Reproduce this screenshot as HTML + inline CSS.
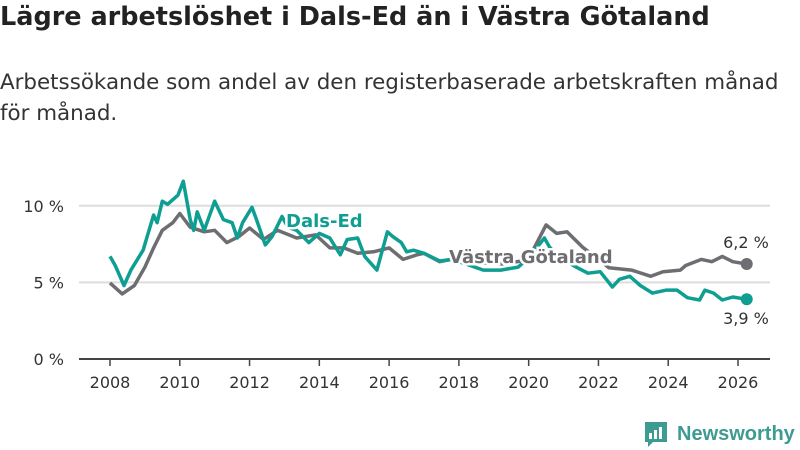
<!DOCTYPE html>
<html><head><meta charset="utf-8">
<style>
body{margin:0;background:#fff;width:800px;height:450px;overflow:hidden;font-family:"DejaVu Sans","Liberation Sans",sans-serif;}
#title{position:absolute;left:0;top:2px;font-size:25.5px;font-weight:bold;color:#222;white-space:nowrap;letter-spacing:0px}
#sub{position:absolute;left:0;top:67px;font-size:21.4px;line-height:31px;color:#333;width:800px;white-space:nowrap}
svg{position:absolute;left:0;top:0}
</style></head><body>
<div id="title">Lägre arbetslöshet i Dals-Ed än i Västra Götaland</div>
<div id="sub">Arbetssökande som andel av den registerbaserade arbetskraften månad<br>för månad.</div>
<svg id="chart" width="800" height="450"></svg>
<script>
const yTicks=[0,5,10];
const yTickLabels=["0 %","5 %","10 %"];
const xTicks=[2008,2010,2012,2014,2016,2018,2020,2022,2024,2026];
const dalsYears=[2008.0,2008.15,2008.4,2008.6,2008.95,2009.25,2009.35,2009.5,2009.65,2009.95,2010.1,2010.3,2010.4,2010.5,2010.7,2011.0,2011.25,2011.5,2011.65,2011.8,2012.07,2012.2,2012.45,2012.65,2012.93,2013.1,2013.35,2013.7,2014.0,2014.3,2014.6,2014.8,2015.1,2015.3,2015.65,2015.95,2016.1,2016.35,2016.5,2016.7,2017.0,2017.45,2017.8,2018.2,2018.7,2019.2,2019.7,2020.0,2020.45,2020.6,2020.9,2021.4,2021.7,2022.05,2022.4,2022.6,2022.9,2023.2,2023.55,2023.95,2024.25,2024.55,2024.9,2025.05,2025.3,2025.55,2025.85,2026.25];
const dalsValues=[6.7,6.1,4.8,5.8,7.1,9.4,8.9,10.3,10.1,10.7,11.6,9.1,8.4,9.6,8.4,10.3,9.1,8.9,7.9,8.9,9.9,9.1,7.45,8.0,9.3,8.6,8.4,7.6,8.2,7.9,6.8,7.8,7.9,6.7,5.8,8.3,8.0,7.6,7.0,7.1,6.9,6.4,6.5,6.2,5.8,5.8,6.0,6.6,7.9,7.3,6.6,5.95,5.6,5.7,4.7,5.2,5.4,4.8,4.3,4.5,4.5,4.0,3.85,4.5,4.3,3.85,4.05,3.9];
const vgYears=[2008.0,2008.35,2008.7,2009.0,2009.25,2009.5,2009.8,2010.0,2010.3,2010.7,2011.0,2011.35,2011.7,2012.0,2012.4,2012.8,2013.35,2013.9,2014.3,2014.7,2015.1,2015.55,2016.0,2016.4,2016.8,2017.0,2017.45,2018.0,2018.6,2019.2,2019.8,2020.1,2020.5,2020.8,2021.1,2021.55,2022.0,2022.3,2022.95,2023.5,2023.85,2024.35,2024.5,2024.95,2025.25,2025.55,2025.85,2026.25];
const vgValues=[4.97,4.25,4.8,6.0,7.25,8.4,8.9,9.5,8.6,8.3,8.4,7.6,8.0,8.55,7.8,8.4,7.9,8.1,7.25,7.25,6.9,7.0,7.25,6.5,6.8,6.9,6.35,6.6,6.3,6.2,6.4,7.0,8.75,8.2,8.3,7.3,6.5,5.95,5.8,5.4,5.7,5.8,6.1,6.5,6.35,6.7,6.35,6.2];

const NS="http://www.w3.org/2000/svg";
const svg=document.getElementById('chart');
const X=y=>110+(y-2008)*(628/18);
const Y=v=>359-v*15.32;
function mk(t,a,p){const e=document.createElementNS(NS,t);for(const k in a)e.setAttribute(k,a[k]);(p||svg).appendChild(e);return e;}
yTicks.forEach((v,i)=>{
  if(v>0){const g=mk('line',{x1:79,x2:770,y1:Y(v),y2:Y(v),stroke:'#ddd','stroke-width':2});
  
  }
  const t=mk('text',{x:64,y:Y(v)+6,'text-anchor':'end','font-size':16,fill:'#333'});t.textContent=yTickLabels[i];
  
  
});
const ax=mk('line',{x1:79,x2:770,y1:359,y2:359,stroke:'#444','stroke-width':2});


xTicks.forEach(y=>{
  const l=mk('line',{x1:X(y),x2:X(y),y1:359,y2:366,stroke:'#444','stroke-width':1.5});
  
  
  const t=mk('text',{x:X(y),y:388,'text-anchor':'middle','font-size':16,fill:'#333'});t.textContent=y;
  
  
});
function line(xs,vs,col,name){
  const d=xs.map((x,i)=>(i?'L':'M')+X(x).toFixed(1)+','+Y(vs[i]).toFixed(1)).join('');
  const p=mk('path',{d:d,fill:'none',stroke:col,'stroke-width':3.5,'stroke-linejoin':'round'});
  
  
  const n=xs.length-1;
  const c=mk('circle',{cx:X(xs[n]),cy:Y(vs[n]),r:6,fill:col});
  
  
}
line(vgYears,vgValues,'#6e6d72','vastra-gotaland');
line(dalsYears,dalsValues,'#0f9e92','dals-ed');
function lbl(x,y,txt,col,name,anchor,size,w){
  const t=mk('text',{x:x,y:y,'text-anchor':anchor||'start','font-size':size,'font-weight':w||'normal',fill:col,stroke:'#fff','stroke-width':w?5:0,'paint-order':'stroke'});
  t.textContent=txt;
  
  
}
lbl(286,227,'Dals-Ed','#0f9e92','dals-ed-label','start',18,'bold');
lbl(449,263,'Västra Götaland','#6e6d72','vastra-gotaland-label','start',18,'bold');
const nv=vgValues.length-1, nd=dalsValues.length-1;
lbl(746,248,vgValues[nv].toFixed(1).replace('.',',')+' %','#333','vastra-gotaland-end-value','middle',16);
lbl(746,324,dalsValues[nd].toFixed(1).replace('.',',')+' %','#333','dals-ed-end-value','middle',16);
// logo
const g=mk('g',{});


mk('path',{d:'M645,422 h22 v20 h-14 l-5,5 v-5 h-3 z',fill:'#3d9b92'},g);
[[649,433,3,6],[654,430,3,9],[659,427,3,12]].forEach(r=>mk('rect',{x:r[0],y:r[1],width:r[2],height:r[3],fill:'#fff'},g));
const lt=mk('text',{x:677,y:440,'font-size':20,'font-weight':'bold',fill:'#3d9b92','font-family':'Liberation Sans, sans-serif'},g);lt.textContent='Newsworthy';
</script>
</body></html>
